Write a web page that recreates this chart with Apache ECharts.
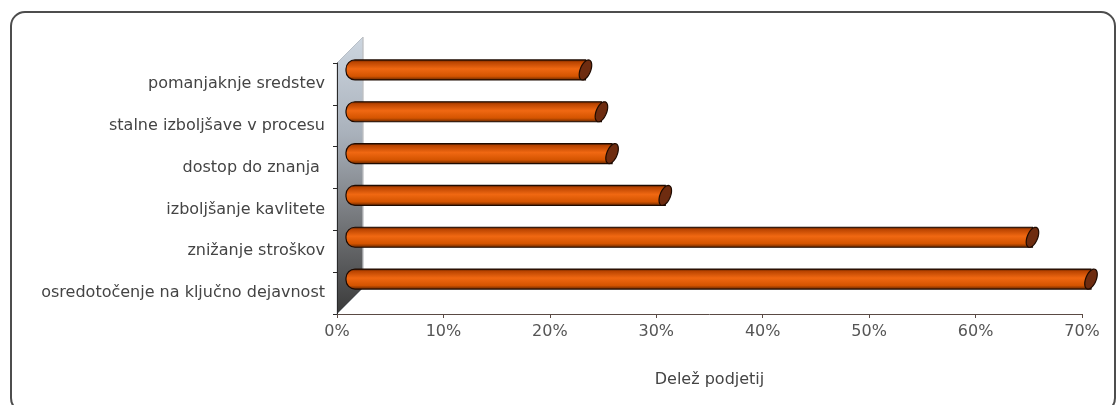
<!DOCTYPE html>
<html>
<head>
<meta charset="utf-8">
<script src="https://cdn.jsdelivr.net/npm/echarts@6/dist/echarts.min.js"></script>
<style>
html,body{margin:0;padding:0;background:#fff;}
#chart{width:1120px;height:405px;}
</style>
</head>
<body>
<div id="chart"></div>
<script>
// ---- data ----
const categories = [
  'pomanjaknje sredstev',
  'stalne izboljšave v procesu',
  'dostop do znanja ',
  'izboljšanje kavlitete',
  'znižanje stroškov',
  'osredotočenje na ključno dejavnost'
];
const values = [22.5, 24, 25, 30, 64.5, 70];
const axisTicks = [0, 10, 20, 30, 40, 50, 60, 70];
const axisTitle = 'Delež podjetij';

// ---- layout ----
const W = 1120, H = 405;
const gridLeft = 337, gridRight = 38, gridTop = 63, gridBottom = 91;
const depth = 26;          // 3D wall depth
const barDx = 9, barDy = -14, barH = 20;
const FONT = 'DejaVu Sans';

const chart = echarts.init(document.getElementById('chart'), null, {renderer: 'canvas'});

const plotBottom = H - gridBottom;
const wallGraphic = [
  { // rounded frame
    type: 'rect', z: 0, silent: true,
    shape: {x: 11, y: 12, width: 1104, height: 400, r: 14},
    style: {fill: 'none', stroke: '#4d4d4d', lineWidth: 2}
  },
  { // side wall
    type: 'polygon', z: 1, silent: true,
    shape: {points: [[gridLeft, gridTop], [gridLeft + depth, gridTop - depth],
                     [gridLeft + depth, plotBottom - depth], [gridLeft, plotBottom]]},
    style: {
      fill: new echarts.graphic.LinearGradient(0, 0, 0, 1, [
        {offset: 0, color: '#cdd6e0'},
        {offset: 0.35, color: '#a9b1bb'},
        {offset: 0.7, color: '#6e7073'},
        {offset: 1, color: '#3a3a3a'}
      ]),
      stroke: '#9aa3ad', lineWidth: 0.6
    }
  },
  { // back wall edge
    type: 'line', z: 1, silent: true,
    shape: {x1: gridLeft + depth, y1: gridTop - depth, x2: gridLeft + depth, y2: plotBottom - depth},
    style: {stroke: '#c8c8c8', lineWidth: 1}
  }
];

function renderBar(params, api) {
  const idx = api.value(1);
  const v = api.value(0);
  const p0 = api.coord([0, idx]);
  const p1 = api.coord([v, idx]);
  const x0 = p0[0] + barDx;
  const x1 = p1[0] + barDx;
  const cy = p0[1] + barDy;
  const top = cy - barH / 2;
  const rx = 5.5, ry = barH / 2, k = 3;
  const pts = [];
  for (let i = 0; i < 40; i++) {
    const t = i / 40 * Math.PI * 2;
    pts.push([x1 + rx * Math.cos(t) - k * Math.sin(t), cy + ry * Math.sin(t)]);
  }
  return {
    type: 'group',
    children: [
      {
        type: 'rect',
        shape: {x: x0, y: top, width: x1 - x0, height: barH, r: [9, 0, 0, 9]},
        style: {
          fill: new echarts.graphic.LinearGradient(0, 0, 0, 1, [
            {offset: 0, color: '#2a0f00'},
            {offset: 0.12, color: '#b84300'},
            {offset: 0.45, color: '#f06812'},
            {offset: 0.8, color: '#d45400'},
            {offset: 1, color: '#5a2200'}
          ]),
          stroke: '#1e0a00', lineWidth: 1.2
        }
      },
      {
        type: 'polygon',
        shape: {points: pts},
        style: {fill: '#6e2c10', stroke: '#1e0a00', lineWidth: 1.2}
      }
    ]
  };
}

const option = {
  animation: false,
  backgroundColor: '#ffffff',
  graphic: wallGraphic,
  grid: {left: gridLeft, right: gridRight, top: gridTop, bottom: gridBottom, containLabel: false},
  xAxis: {
    type: 'value', min: axisTicks[0], max: axisTicks[axisTicks.length - 1],
    interval: axisTicks[1] - axisTicks[0],
    z: 5,
    name: axisTitle, nameLocation: 'middle', nameGap: 58,
    nameTextStyle: {fontFamily: FONT, fontSize: 16, color: '#444'},
    axisLine: {show: true, lineStyle: {color: '#5a4a44', width: 1}},
    axisTick: {show: true, length: 4, lineStyle: {color: '#5a4a44'}},
    axisLabel: {formatter: '{value}%', fontFamily: FONT, fontSize: 16, color: '#555', margin: 10},
    splitLine: {show: false}
  },
  yAxis: {
    type: 'category', data: categories, inverse: true, z: 5,
    axisLine: {show: true, lineStyle: {color: '#2a2a2a', width: 1}},
    axisTick: {show: true, length: 4, lineStyle: {color: '#2a2a2a'}},
    axisLabel: {fontFamily: FONT, fontSize: 16, color: '#444', margin: 12},
    splitLine: {show: false}
  },
  series: [{
    type: 'custom', z: 3,
    renderItem: renderBar,
    encode: {x: 0, y: 1},
    data: values.map((v, i) => [v, i])
  }]
};
chart.setOption(option);
</script>
</body>
</html>
